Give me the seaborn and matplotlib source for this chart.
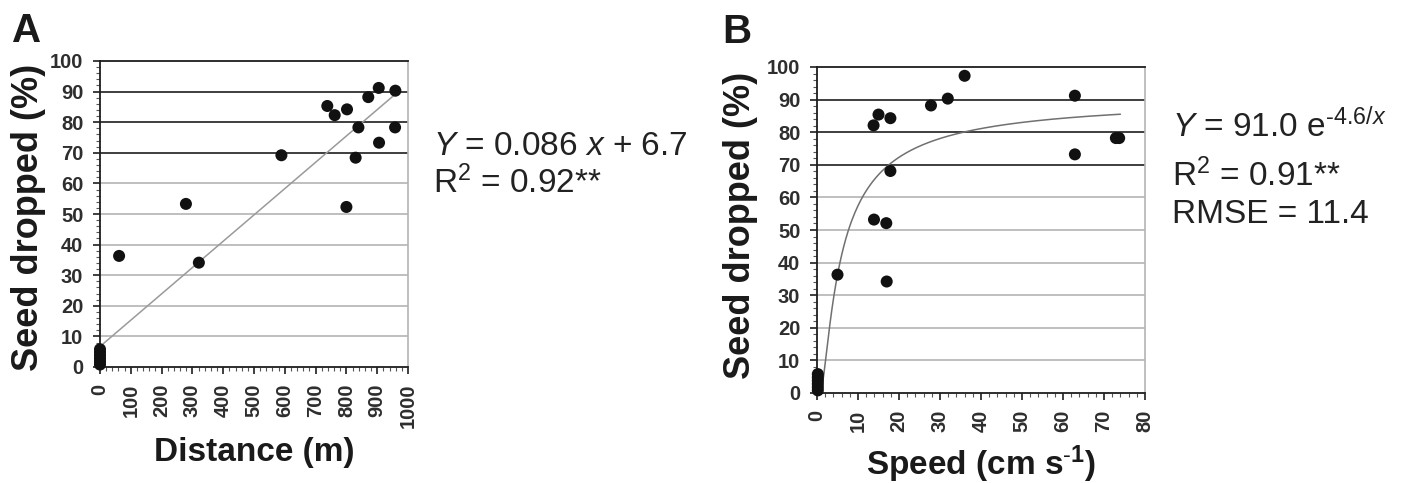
import numpy as np
import pandas as pd
import seaborn as sns
import matplotlib.pyplot as plt
from matplotlib.ticker import MultipleLocator

# Data

# panel A: distance (m) vs seed dropped (%)
distance = [0, 0, 0, 0, 0, 0, 62, 279, 321, 589, 738, 762, 802, 800, 839, 830, 871, 905, 906, 959, 958]
dropped_a = [0.8, 1.8, 2.8, 3.8, 4.8, 5.8, 36.3, 53.3, 34.1, 69.2, 85.3, 82.3, 84.2, 52.3, 78.3, 68.4, 88.2, 91.2, 73.3, 90.3, 78.3]

# panel B: speed (cm/s) vs seed dropped (%)
speed = [0.2, 0.2, 0.2, 0.2, 0.2, 0.2, 5.0, 13.9, 13.8, 15.0, 16.9, 17.0, 17.9, 17.9, 27.8, 31.9, 36.0, 62.9, 62.9, 72.9, 73.7]
dropped_b = [0.8, 1.8, 2.8, 3.8, 4.8, 5.8, 36.3, 53.2, 82.1, 85.4, 52.1, 34.2, 84.3, 68.1, 88.2, 90.3, 97.3, 91.2, 73.2, 78.2, 78.2]

# fitted models as printed in the figure
lin_slope, lin_icept = 0.086, 6.7
lin_range = [0, 960]
exp_a, exp_b = 91.0, -4.6
exp_range = [1.2, 74]

df_a = pd.DataFrame({"x": distance, "y": dropped_a})
df_b = pd.DataFrame({"x": speed, "y": dropped_b})

sns.set_style("white")
plt.rcParams["font.family"] = ["Liberation Sans", "DejaVu Sans"]
plt.rcParams["mathtext.fontset"] = "custom"
plt.rcParams["mathtext.rm"] = "Liberation Sans"
plt.rcParams["mathtext.it"] = "Liberation Sans:italic"
plt.rcParams["mathtext.bf"] = "Liberation Sans:bold"

fig = plt.figure(figsize=(14.12, 4.83), dpi=100)
ax_a = fig.add_axes([100 / 1412, 1 - 367 / 483, 308 / 1412, 306 / 483])
ax_b = fig.add_axes([817 / 1412, 1 - 393 / 483, 328 / 1412, 326 / 483])

dark = "#1e1e1e"
light = "#b4b4b4"


def style_axes(ax, xmax, xmajor, xminor):
    ax.set_xlim(0, xmax)
    ax.set_ylim(0, 100)
    for v in range(10, 100, 10):
        c = dark if v in (70, 80, 90) else light
        ax.axhline(v, color=c, lw=1.2, zorder=1)
    ax.xaxis.set_major_locator(MultipleLocator(xmajor))
    ax.xaxis.set_minor_locator(MultipleLocator(xminor))
    ax.yaxis.set_major_locator(MultipleLocator(10))
    ax.yaxis.set_minor_locator(MultipleLocator(2))
    ax.tick_params(which="major", direction="out", length=5, width=1.2, color=dark,
                   labelsize=14.5, labelcolor="#2e2e2e", pad=7,
                   bottom=True, left=True)
    ax.tick_params(which="minor", direction="out", length=3, width=0.8, color="#555555",
                   bottom=True, left=True)
    ax.tick_params(axis="x", which="major", labelrotation=90, pad=7)
    for lab in ax.get_xticklabels() + ax.get_yticklabels():
        lab.set_fontweight("bold")
    for s in ["left", "bottom", "top"]:
        ax.spines[s].set_color(dark)
        ax.spines[s].set_linewidth(1.3)
    ax.spines["right"].set_color(light)
    ax.spines["right"].set_linewidth(1.2)


# panel A
style_axes(ax_a, 1000, 100, 20)
xa = np.array(lin_range)
sns.lineplot(x=xa, y=lin_slope * xa + lin_icept, ax=ax_a, color="#9a9a9a", lw=1.1, zorder=2)
sns.scatterplot(data=df_a, x="x", y="y", ax=ax_a, color="#111111", s=75,
                edgecolor="none", zorder=3, clip_on=False)
ax_a.set_xlabel("Distance (m)", fontsize=24, fontweight="bold", color="#1a1a1a")
ax_a.set_ylabel("Seed dropped (%)", fontsize=26, fontweight="bold", color="#1a1a1a")
ax_a.xaxis.set_label_coords(0.5, -0.23)
ax_a.yaxis.set_label_coords(-0.175, 0.49)

# panel B
style_axes(ax_b, 80, 10, 2)
xb = np.linspace(exp_range[0], exp_range[1], 300)
sns.lineplot(x=xb, y=exp_a * np.exp(exp_b / xb), ax=ax_b, color="#707070", lw=1.1, zorder=2)
sns.scatterplot(data=df_b, x="x", y="y", ax=ax_b, color="#111111", s=75,
                edgecolor="none", zorder=3, clip_on=False)
ax_b.set_xlabel(r"Speed (cm s$^{\mathbf{\text{-}1}}$)", fontsize=24, fontweight="bold", color="#1a1a1a")
ax_b.set_ylabel("Seed dropped (%)", fontsize=26, fontweight="bold", color="#1a1a1a")
ax_b.xaxis.set_label_coords(0.5, -0.155)
ax_b.yaxis.set_label_coords(-0.18, 0.515)

# panel letters
fig.text(12 / 1412, 1 - 42 / 483, "A", fontsize=29, fontweight="bold", color="#1a1a1a", va="baseline")
fig.text(722 / 1412, 1 - 43 / 483, "B", fontsize=29, fontweight="bold", color="#1a1a1a", va="baseline")

# equations
tc = "#222222"
fig.text(433 / 1412, 1 - 155 / 483, r"$\it{Y}$ = 0.086 $\it{x}$ + 6.7", fontsize=24, color=tc, va="baseline")
fig.text(433 / 1412, 1 - 193 / 483, r"R$^2$ = 0.92**", fontsize=24, color=tc, va="baseline")
fig.text(1172 / 1412, 1 - 137 / 483, r"$\it{Y}$ = 91.0 e$^{\text{-}4.6/\it{x}}$", fontsize=24, color=tc, va="baseline")
fig.text(1172 / 1412, 1 - 186 / 483, r"R$^2$ = 0.91**", fontsize=24, color=tc, va="baseline")
fig.text(1172 / 1412, 1 - 223 / 483, "RMSE = 11.4", fontsize=24, color=tc, va="baseline")

fig.savefig("out.png", dpi=100, facecolor="white")
